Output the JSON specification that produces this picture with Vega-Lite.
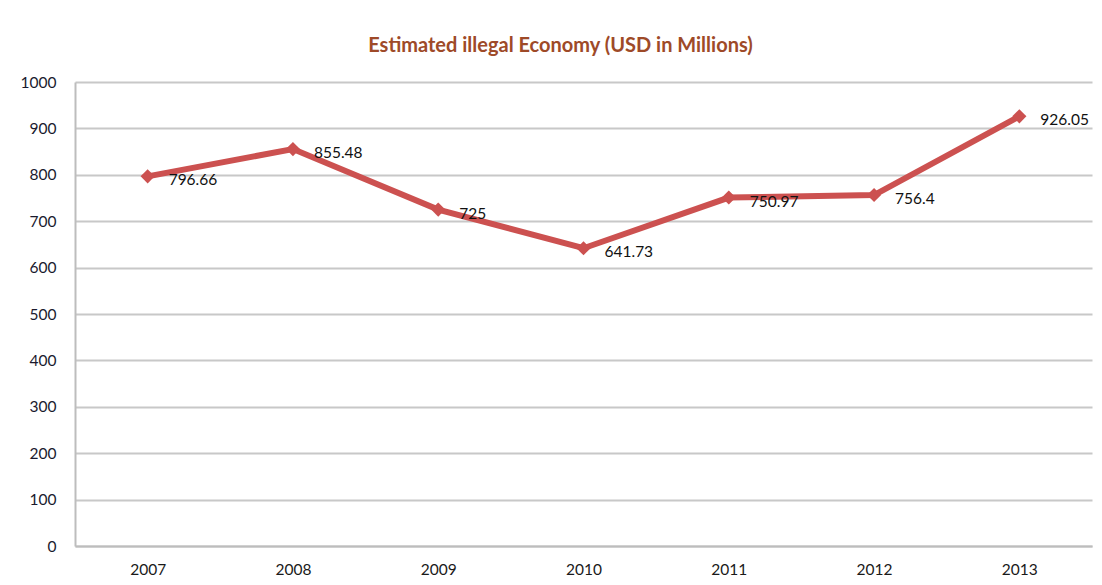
{
  "$schema": "https://vega.github.io/schema/vega-lite/v6.json",
  "width": 1017,
  "height": 464,
  "autosize": {"type": "none"},
  "padding": {"left": 75, "top": 82, "right": 10, "bottom": 39},
  "background": "white",
  "config": {
    "view": {"stroke": null},
    "font": "Lato"
  },
  "title": {
    "text": "Estimated illegal Economy (USD in Millions)",
    "font": "Lato",
    "fontSize": 20,
    "fontWeight": "bold",
    "color": "#9e4a28",
    "anchor": "middle",
    "dx": -23,
    "offset": 19
  },
  "data": {
    "values": [
      {"year": "2007", "value": 796.66, "label": "796.66"},
      {"year": "2008", "value": 855.48, "label": "855.48"},
      {"year": "2009", "value": 725, "label": "725"},
      {"year": "2010", "value": 641.73, "label": "641.73"},
      {"year": "2011", "value": 750.97, "label": "750.97"},
      {"year": "2012", "value": 756.4, "label": "756.4"},
      {"year": "2013", "value": 926.05, "label": "926.05"}
    ]
  },
  "encoding": {
    "x": {
      "field": "year",
      "type": "ordinal",
      "scale": {"type": "point", "padding": 0.5},
      "axis": {
        "title": null,
        "labelAngle": 0,
        "labelFont": "Lato",
        "labelFontSize": 15.5,
        "labelColor": "#1a1a1a",
        "labelPadding": 16,
        "ticks": false,
        "domain": true,
        "domainColor": "#bdbdbd",
        "domainWidth": 2,
        "grid": false
      }
    },
    "y": {
      "field": "value",
      "type": "quantitative",
      "scale": {"domain": [0, 1000], "nice": false},
      "axis": {
        "title": null,
        "format": "d",
        "values": [0, 100, 200, 300, 400, 500, 600, 700, 800, 900, 1000],
        "labelFont": "Lato",
        "labelFontSize": 15.5,
        "labelColor": "#1a1a2e",
        "labelPadding": 19,
        "ticks": false,
        "domain": true,
        "domainColor": "#bdbdbd",
        "domainWidth": 2,
        "grid": true,
        "gridColor": "#c8c8c8",
        "gridWidth": 2
      }
    }
  },
  "layer": [
    {
      "mark": {"type": "line", "color": "#cc5150", "strokeWidth": 6}
    },
    {
      "mark": {"type": "point", "shape": "diamond", "filled": true, "color": "#cc5150", "size": 200, "opacity": 1}
    },
    {
      "mark": {"type": "text", "align": "left", "baseline": "middle", "dx": 21, "dy": 4, "font": "Lato", "fontSize": 15.5, "color": "#111111"},
      "encoding": {"text": {"field": "label"}}
    }
  ]
}
